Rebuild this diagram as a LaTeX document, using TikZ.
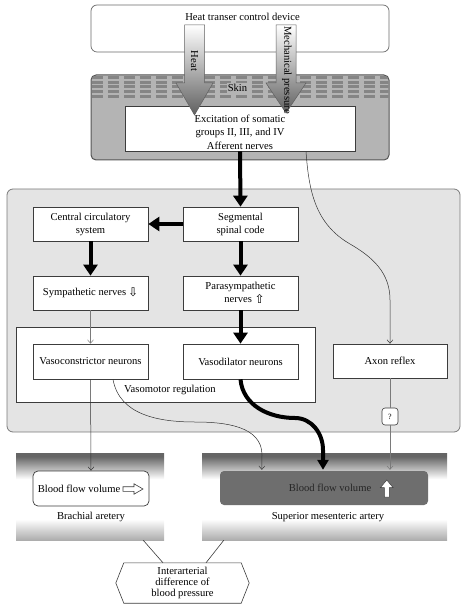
\documentclass[tikz,border=0pt]{standalone}
\usepackage{fontspec}
\usepackage{graphicx}
\setmainfont{Liberation Serif}
\newfontfamily\symf{DejaVu Sans}
\usetikzlibrary{arrows.meta,calc}
\definecolor{panelfill}{HTML}{E4E4E4}
\definecolor{panelline}{HTML}{7A7A7A}
\definecolor{skinfill}{HTML}{B4B4B4}
\definecolor{skinline}{HTML}{555555}
\definecolor{dashcol}{HTML}{858585}
\definecolor{boxline}{HTML}{3C3C3C}
\definecolor{devline}{HTML}{6A6A6A}
\definecolor{arrowdark}{HTML}{606060}
\definecolor{bfmfill}{HTML}{6E6E6E}
\definecolor{thingray}{HTML}{7A7A7A}
\definecolor{bandhi}{HTML}{656565}
\definecolor{bandlo}{HTML}{ADADAD}
\pgfdeclareverticalshading{band}{100bp}{color(0bp)=(bandlo); color(25bp)=(bandlo); color(37bp)=(white); color(60bp)=(white); color(73bp)=(bandhi); color(100bp)=(bandhi)}
\begin{document}
\begin{tikzpicture}[x=1pt,y=-1pt,
  font=\fontsize{10.6}{13}\selectfont,
  box/.style={draw=boxline, line width=0.7pt, fill=white, align=center,
    minimum width=115pt, minimum height=34pt, inner sep=2pt},
  bigarrow/.style={line width=4pt, -{Triangle[width=14pt,length=11pt]}},
  thinarrow/.style={line width=0.5pt, -{Straight Barb[length=3.5pt,width=6pt]}},
  bandbox/.style={shade, shading=band, minimum height=87pt, inner sep=0pt},
  bigdown/.style={top color=white, bottom color=arrowdark, draw=arrowdark, line width=0.5pt}]
\useasboundingbox (0,0) rectangle (466,609);
% main panel
\node[draw=panelline, fill=panelfill, rounded corners=6pt, line width=0.8pt,
  minimum width=453pt, minimum height=243pt] (panel) at (233.5,310.5) {};
% device box
\node[draw=devline, fill=white, rounded corners=6pt, line width=0.7pt,
  minimum width=298pt, minimum height=47pt] (dev) at (240,28.5) {};
\node (devlbl) at (242.5,16.5) {Heat transer control device};
% skin box
\node[draw=skinline, fill=skinfill, rounded corners=5pt, line width=1pt,
  minimum width=298pt, minimum height=85pt] (skin) at (240,117.5) {};
\begin{scope}
  \clip[rounded corners=5pt] (91.5,75.5) rectangle (388.5,159.5);
  \foreach \r in {76,80.7,85.4,90.1,94.8}{
    \foreach \c in {0,...,18}{
      \fill[dashcol] ({92.3+16*\c},\r) rectangle ({103.3+16*\c},\r+3);
    }
  }
\end{scope}
\node[fill=skinfill, inner sep=1pt] (skinlbl) at (237.5,88) {Skin};
% afferent box
\node[draw=boxline, fill=white, line width=0.7pt, minimum width=230pt, minimum height=45pt] (aff) at (240,128.5) {};
\node[align=center] (afftxt) at (240,132) {Excitation of somatic\\groups II, III, and IV\\[1pt]Afferent nerves};
% big shaded arrows
\path[bigdown] (184.5,25) -- (204.5,25) -- (204.5,83) -- (213,83) -- (194.5,115) -- (176,83) -- (184.5,83) -- cycle;
\path[bigdown] (276,25) -- (296,25) -- (296,83) -- (306,83) -- (286,113) -- (266,83) -- (276,83) -- cycle;
\node[rotate=-90] (heatlbl) at (194.5,61) {Heat};
\node[rotate=-90] (mechlbl) at (287,70) {Mechanical pressure};
% boxes in panel
\node[box] (cen) at (90.5,224) {Central circulatory\\system};
\node[box] (seg) at (240.5,224) {Segmental\\spinal code};
\node[box] (sym) at (90.5,293) {Sympathetic nerves\,\raisebox{-1pt}{\symf\fontsize{12}{12}\selectfont ⇩}};
\node[box] (par) at (240.5,293) {Parasympathetic\\\hspace*{8pt}nerves \raisebox{-1pt}{\symf\fontsize{12}{12}\selectfont ⇧}};
\node[draw=boxline, fill=white, line width=0.7pt, minimum width=299pt, minimum height=75pt] (vmr) at (165.5,364.5) {};
\node (vmrlbl) at (170,390) {Vasomotor regulation};
\node[box, minimum height=35pt] (vc) at (90.5,361.5) {Vasoconstrictor neurons};
\node[box, minimum height=35pt] (vd) at (240.5,361.5) {Vasodilator neurons};
\node[box, minimum width=114pt] (ax) at (390,361) {Axon reflex};
\node[draw=boxline, fill=white, rounded corners=3pt, line width=0.6pt, minimum width=16pt, minimum height=17pt, inner sep=0pt, font=\fontsize{8}{8}\selectfont] (q) at (390,416.5) {?};
% artery bands
\node[bandbox, minimum width=148pt] (brach) at (90,496.5) {};
\node[bandbox, minimum width=245pt] (mes) at (324.5,496.5) {};
\node[draw=boxline, fill=white, rounded corners=5pt, line width=0.7pt, minimum width=116pt, minimum height=35pt] (bfb) at (91,488.5) {Blood flow volume\hspace*{24pt}};
\draw[boxline, fill=white, line width=0.6pt] (123,486.7) -- (134,486.7) -- (134,483.8) -- (143,489) -- (134,494.2) -- (134,491.3) -- (123,491.3) -- cycle;
\node[fill=bfmfill, rounded corners=4pt, minimum width=208pt, minimum height=34pt] (bfm) at (324,488) {};
\node[text=black!85] (bfmtxt) at (330,488) {Blood flow volume};
\draw[boxline, fill=white, line width=0.5pt] (384.3,497) -- (389.3,497) -- (389.3,487.5) -- (393,487.5) -- (386.8,480) -- (380.5,487.5) -- (384.3,487.5) -- cycle;
\node (brlbl) at (91,517) {Brachial aretery};
\node (smlbl) at (328,517) {Superior mesenteric artery};
% hexagon
\node[align=center, minimum width=133pt, minimum height=40pt, font=\fontsize{10.6}{11.3}\selectfont] (hex) at (182.5,583) {Interarterial\\difference of\\blood pressure};
\draw[boxline, line width=0.6pt] (hex.west) -- ($(hex.north west)+(8,0)$) -- ($(hex.north east)+(-8,0)$) -- (hex.east) -- ($(hex.south east)+(-8,0)$) -- ($(hex.south west)+(8,0)$) -- cycle;
\draw[boxline, line width=0.6pt] ($(brach.south east)+(-21,0)$) -- ($(hex.north)+(-19.5,0)$);
\draw[boxline, line width=0.6pt] ($(mes.south west)+(22,0)$) -- ($(hex.north)+(23.5,0)$);
% thick connectors
\draw[bigarrow] (aff.south) -- (seg.north);
\draw[bigarrow] (seg.west) -- (cen.east);
\draw[bigarrow] (cen.south) -- (sym.north);
\draw[bigarrow] (seg.south) -- (par.north);
\draw[bigarrow] (par.south) -- (vd.north);
% thin connectors
\draw[thinarrow, thingray] (sym.south) -- (vc.north);
\draw[thinarrow, black!80] ($(aff.south)+(66,0)$) to[out=-86,in=150] (350,244) to[out=-30,in=90] (390,300) -- (ax.north);
\draw[thinarrow, black!80] (vc.south) -- (bfb.north);
\draw[thinarrow, black!80] ($(vc.south)+(22.5,0)$) to[out=-80,in=180] (195,422) to[out=0,in=90] (262,455) -- ($(bfm.north west)+(42,-1)$);
\draw[line width=4pt, -{Triangle[width=11pt,length=10pt]}] (vd.south) to[out=-85,in=180] (295,418) to[out=0,in=90] (323,450) -- ($(bfm.north)+(-1,-1)$);
\draw[thingray, line width=0.6pt] (ax.south) -- (q.north);
\draw[thinarrow, thingray] (q.south) -- ($(bfm.north -| q.south)+(0,-1)$);
\end{tikzpicture}
\end{document}
